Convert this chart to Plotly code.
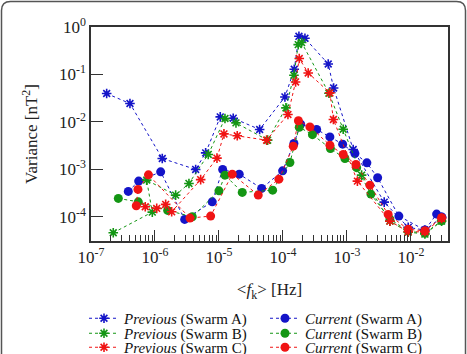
import plotly.graph_objects as go

# ---- data (log10 frequency [Hz], log10 variance [nT^2]) ----
prevA_logf = [-6.755, -6.391, -5.886, -5.364, -5.208, -4.980, -4.777, -4.364, -3.969, -3.823,
              -3.750, -3.656, -3.292, -3.208, -2.902, -2.417, -2.042, -1.781, -1.520]
prevA_logv = [-1.402, -1.613, -2.771, -3.002, -2.653, -1.895, -1.922, -2.160, -1.474, -0.891,
              -0.196, -0.238, -0.779, -1.284, -2.581, -3.691, -4.223, -4.280, -4.013]

prevB_logf = [-6.652, -6.042, -6.130, -5.677, -5.469, -5.167, -4.906, -4.734, -4.239, -3.953,
              -3.828, -3.761, -3.708, -3.281, -3.058, -2.770, -2.328, -2.042, -1.781, -1.520]
prevB_logv = [-4.337, -3.901, -3.227, -3.543, -3.297, -2.686, -1.928, -2.021, -2.385, -1.705,
              -1.017, -0.371, -0.328, -1.396, -2.154, -3.122, -4.091, -4.322, -4.364, -4.091]

prevC_logf = [-6.152, -5.973, -5.833, -5.739, -5.286, -5.031, -4.922, -4.714, -4.255, -3.922,
              -3.802, -3.745, -3.605, -3.266, -3.211, -2.836, -2.328, -2.042, -1.781, -1.520]
prevC_logv = [-3.789, -3.823, -3.739, -3.895, -3.217, -2.764, -2.253, -2.291, -2.385, -1.844,
              -1.158, -0.665, -0.968, -1.389, -1.949, -3.248, -4.091, -4.316, -4.316, -4.034]

curA_logf = [-6.417, -6.255, -5.911, -5.536, -5.105, -4.942, -4.683, -4.333, -4.005, -3.828,
             -3.723, -3.473, -3.266, -3.067, -2.875, -2.688, -2.520, -2.188, -1.781, -1.598, -1.516]
curA_logv = [-3.465, -3.248, -3.053, -4.055, -3.684, -3.002, -3.101, -3.402, -3.032, -2.455,
             -2.048, -2.160, -2.316, -2.469, -2.665, -2.863, -3.177, -3.985, -4.280, -3.943, -4.006]

curB_logf = [-6.573, -6.261, -5.802, -5.417, -5.000, -4.906, -4.636, -4.161, -3.891, -3.745,
             -3.539, -3.258, -3.031, -2.848, -2.625, -2.328, -2.042, -1.781, -1.520]
curB_logv = [-3.613, -3.684, -3.865, -4.000, -3.453, -3.122, -3.486, -3.438, -2.855, -2.112,
             -2.269, -2.560, -2.771, -2.964, -3.522, -4.048, -4.301, -4.349, -4.084]

curC_logf = [-6.292, -6.266, -6.102, -5.453, -5.130, -4.792, -4.386, -4.063, -3.839, -3.758,
             -3.578, -3.266, -3.058, -2.859, -2.641, -2.355, -2.042, -1.781, -1.520]
curC_logv = [-3.768, -3.423, -3.116, -4.027, -3.985, -3.101, -3.543, -3.206, -2.512, -1.975,
             -2.105, -2.491, -2.686, -2.897, -3.333, -3.949, -4.265, -4.295, -4.021]

swarm_names = ["Swarm A", "Swarm B", "Swarm C"]
colors = ["#1414c8", "#149614", "#f01414"]

x_tick_exp = [-7, -6, -5, -4, -3, -2]
x_tick_text = ["10<sup>-7</sup>", "10<sup>-6</sup>", "10<sup>-5</sup>",
               "10<sup>-4</sup>", "10<sup>-3</sup>", "10<sup>-2</sup>"]
y_tick_exp = [-4, -3, -2, -1, 0]
y_tick_text = ["10<sup>-4</sup>", "10<sup>-3</sup>", "10<sup>-2</sup>",
               "10<sup>-1</sup>", "10<sup>0</sup>"]

prev_f = [prevA_logf, prevB_logf, prevC_logf]
prev_v = [prevA_logv, prevB_logv, prevC_logv]
cur_f = [curA_logf, curB_logf, curC_logf]
cur_v = [curA_logv, curB_logv, curC_logv]

FONT = "Liberation Serif"
legend_ids = ["legend", "legend2", "legend3"]

fig = go.Figure()
for i in range(3):
    fig.add_trace(go.Scatter(
        x=[10 ** v for v in prev_f[i]], y=[10 ** v for v in prev_v[i]],
        mode="lines+markers", name="<i>Previous</i> (" + swarm_names[i] + ")",
        legend=legend_ids[i],
        line=dict(color=colors[i], width=1, dash="dot"),
        marker=dict(symbol="asterisk-open", size=8, color=colors[i],
                    line=dict(color=colors[i], width=1.6)),
    ))
    fig.add_trace(go.Scatter(
        x=[10 ** v for v in cur_f[i]], y=[10 ** v for v in cur_v[i]],
        mode="lines+markers", name="<i>Current</i> (" + swarm_names[i] + ")",
        legend=legend_ids[i],
        line=dict(color=colors[i], width=1, dash="dot"),
        marker=dict(symbol="circle", size=9, color=colors[i], line=dict(width=0)),
    ))

# outer rounded frame (pixel -> paper conversion)
W, H = 467, 354
L, R, T, B = 91, 19, 27, 113
pw, ph = W - L - R, H - T - B
def px(x):
    return (x - L) / pw
def py(y):
    return (H - B - y) / ph
x0, x1, y0, y1, r = 1.5, 465.5, 1.5, 380, 9
path = (f"M {px(x0)},{py(y1)} L {px(x0)},{py(y0 + r)} Q {px(x0)},{py(y0)} {px(x0 + r)},{py(y0)} "
        f"L {px(x1 - r)},{py(y0)} Q {px(x1)},{py(y0)} {px(x1)},{py(y0 + r)} L {px(x1)},{py(y1)}")

def leg(yc):
    return dict(orientation="h", x=px(84), xanchor="left", y=py(yc), yanchor="middle",
                entrywidth=136, entrywidthmode="pixels",
                font=dict(family=FONT, size=15, color="#111"),
                bgcolor="rgba(0,0,0,0)", tracegroupgap=0, itemwidth=30)

fig.update_layout(
    width=W, height=H,
    margin=dict(l=L, r=R, t=T, b=B, autoexpand=False),
    paper_bgcolor="white", plot_bgcolor="white",
    font=dict(family=FONT, color="#222", size=16),
    shapes=[dict(type="path", path=path, xref="paper", yref="paper",
                 line=dict(color="#555", width=1.5))],
    showlegend=True,
    legend=leg(318.5),
    legend2=leg(333.5),
    legend3=leg(347.5),
)
fig.update_xaxes(
    type="log", range=[-7, -1.42],
    tickvals=[10 ** e for e in x_tick_exp], ticktext=x_tick_text,
    showgrid=False, zeroline=False,
    showline=True, linecolor="#333", linewidth=1.5, mirror=True,
    ticks="inside", ticklen=11, tickcolor="#333", tickwidth=1,
    tickfont=dict(family=FONT, size=17),
    minor=dict(ticks="inside", ticklen=6, dtick="D1", tickcolor="#333", showgrid=False),
    title=dict(text="&lt;<i>f</i><sub>k</sub>&gt; [Hz]", font=dict(family=FONT, size=17), standoff=17),
)
fig.update_yaxes(
    type="log", range=[-4.51, 0],
    tickvals=[10 ** e for e in y_tick_exp], ticktext=y_tick_text,
    showgrid=False, zeroline=False,
    showline=True, linecolor="#333", linewidth=1.5, mirror=True,
    ticks="inside", ticklen=12, tickcolor="#333", tickwidth=1,
    tickfont=dict(family=FONT, size=17),
    title=dict(text="Variance [nT<sup>2</sup>]", font=dict(family=FONT, size=17), standoff=17),
)

fig.write_html("out.html")
